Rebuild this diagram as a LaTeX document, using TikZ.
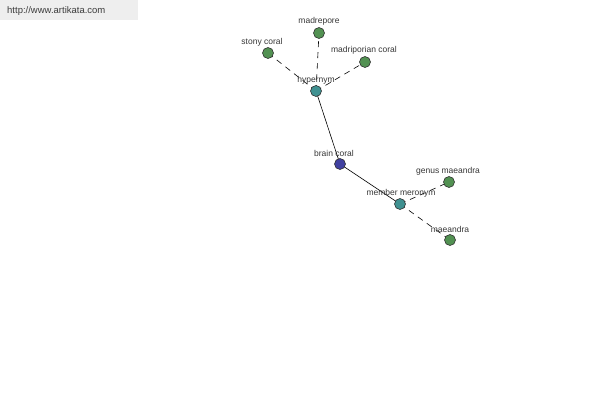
\documentclass[tikz,border=0pt]{standalone}
\usepackage{fontspec}
\setmainfont{Liberation Sans}
\definecolor{leafgreen}{RGB}{82,145,82}
\definecolor{hubteal}{RGB}{64,145,145}
\definecolor{rootblue}{RGB}{64,64,160}
\definecolor{hdrgray}{RGB}{238,238,238}
\definecolor{hdrtext}{RGB}{60,60,60}
\definecolor{lbltext}{RGB}{55,55,55}
\tikzset{
  dot/.style={circle,draw=black!80,line width=0.6pt,minimum size=11pt,inner sep=0pt},
  leaf/.style={dot,fill=leafgreen},
  hub/.style={dot,fill=hubteal},
  root/.style={dot,fill=rootblue},
  lbl/.style={font=\fontsize{8.5}{9}\selectfont,text=lbltext,inner sep=0pt},
  rel/.style={line width=0.6pt,black},
  reldash/.style={line width=0.6pt,black,dash pattern=on 6pt off 5pt}
}
\begin{document}
\begin{tikzpicture}[x=1pt,y=-1pt]
\useasboundingbox (0,0) rectangle (600,400);
\fill[white] (0,0) rectangle (600,400);
\node[fill=hdrgray,minimum width=138pt,minimum height=20pt,inner sep=0pt,anchor=north west] (hdr) at (0,0) {};
\node[anchor=west,font=\fontsize{9.5}{10}\selectfont,text=hdrtext,inner sep=0pt] (url) at (7,11) {http://www.artikata.com};
% nodes
\coordinate (hyp) at (316,91);
\coordinate (mad) at (319,33);
\coordinate (sto) at (268,53);
\coordinate (mdc) at (365,62);
\coordinate (bra) at (340,164);
\coordinate (mem) at (400,204);
\coordinate (gen) at (449,182);
\coordinate (mae) at (450,240);
% edges
\draw[reldash] (hyp) -- (mad);
\draw[reldash] (hyp) -- (sto);
\draw[reldash] (hyp) -- (mdc);
\draw[rel] (hyp) -- (bra);
\draw[rel] (bra) -- (mem);
\draw[reldash] (mem) -- (gen);
\draw[reldash] (mem) -- (mae);
% dots
\node[hub] (nhyp) at (hyp) {};
\node[leaf] (nmad) at (mad) {};
\node[leaf] (nsto) at (sto) {};
\node[leaf] (nmdc) at (mdc) {};
\node[root] (nbra) at (bra) {};
\node[hub] (nmem) at (mem) {};
\node[leaf] (ngen) at (gen) {};
\node[leaf] (nmae) at (mae) {};
% labels
\node[lbl] (lmad) at (319,21) {madrepore};
\node[lbl] (lsto) at (262,42) {stony coral};
\node[lbl] (lmdc) at (364,50) {madriporian coral};
\node[lbl] (lhyp) at (316,80) {hypernym};
\node[lbl] (lbra) at (334,153) {brain coral};
\node[lbl] (lmem) at (401,193) {member meronym};
\node[lbl] (lgen) at (448,171) {genus maeandra};
\node[lbl] (lmae) at (450,229) {maeandra};
\end{tikzpicture}
\end{document}
